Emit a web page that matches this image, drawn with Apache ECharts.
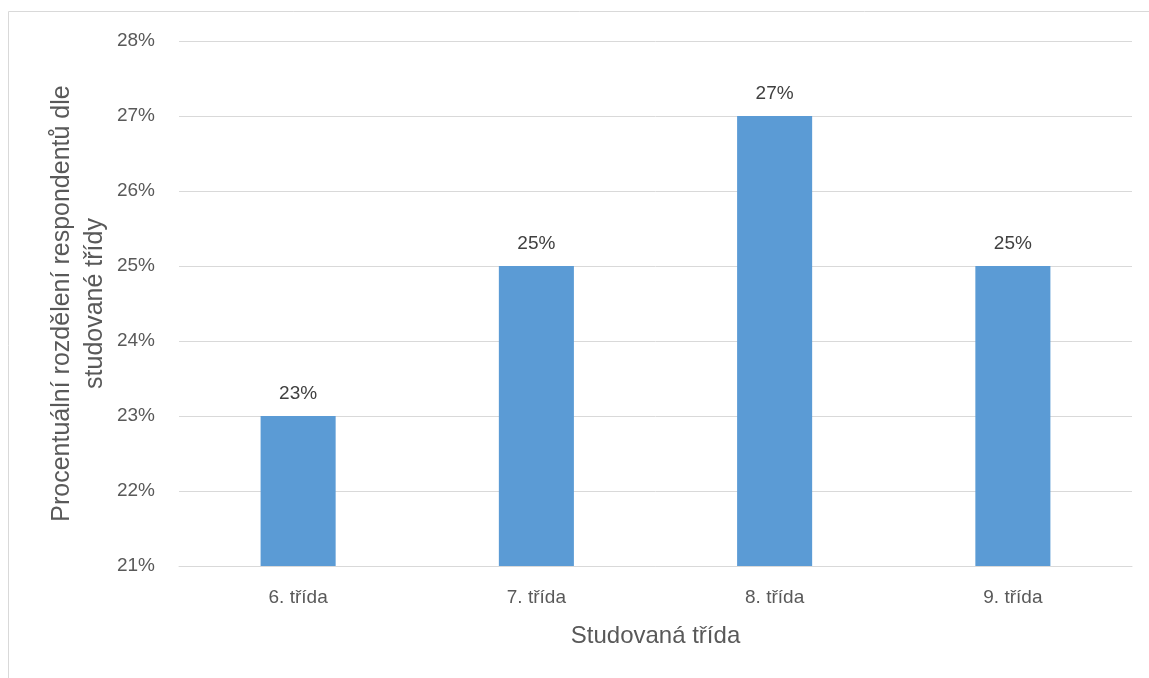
<!DOCTYPE html>
<html>
<head>
<meta charset="utf-8">
<script src="https://cdn.jsdelivr.net/npm/echarts@6/dist/echarts.min.js"></script>
<style>
  html, body { margin: 0; padding: 0; background: #fff; }
  #chart { width: 1149px; height: 678px; }
</style>
</head>
<body>
<div id="chart"></div>
<script>
// data
var categories = ['6. třída', '7. třída', '8. třída', '9. třída'];
var values = [23, 25, 27, 25];
var yMin = 21;
var yMax = 28;

var font = 'Liberation Sans';
var textColor = '#595959';

var chart = echarts.init(document.getElementById('chart'));
chart.setOption({
  animation: false,
  textStyle: { fontFamily: font },
  // chart area frame
  graphic: [{
    type: 'rect',
    shape: { x: 8.5, y: 11.5, width: 1300, height: 800 },
    style: { fill: null, stroke: '#d9d9d9', lineWidth: 1 },
    silent: true
  }],
  grid: { left: 179, right: 17, top: 41, bottom: 112 },
  xAxis: {
    type: 'category',
    data: categories,
    axisTick: { show: false },
    axisLine: { lineStyle: { color: '#d9d9d9', width: 1 } },
    axisLabel: { color: textColor, fontSize: 19, margin: 22, fontFamily: font },
    name: 'Studovaná třída',
    nameLocation: 'middle',
    nameGap: 58,
    nameMoveOverlap: false,
    nameTextStyle: { color: textColor, fontSize: 24, lineHeight: 24, fontFamily: font }
  },
  yAxis: {
    type: 'value',
    min: yMin,
    max: yMax,
    interval: 1,
    axisLine: { show: false },
    axisTick: { show: false },
    splitLine: { lineStyle: { color: '#d9d9d9', width: 1 } },
    axisLabel: {
      color: textColor, fontSize: 19, margin: 24, fontFamily: font,
      formatter: function (v) { return v + '%'; }
    },
    name: 'Procentuální rozdělení respondentů dle\nstudované třídy',
    nameLocation: 'middle',
    nameRotate: 90,
    nameGap: 67,
    nameMoveOverlap: false,
    nameTextStyle: { color: textColor, fontSize: 25, lineHeight: 33, fontFamily: font }
  },
  series: [{
    type: 'bar',
    data: values,
    barWidth: '31.5%',
    itemStyle: { color: '#5b9bd5' },
    label: {
      show: true,
      position: 'top',
      distance: 13,
      color: '#404040',
      fontSize: 19,
      fontFamily: font,
      formatter: function (p) { return p.value + '%'; }
    }
  }]
});
</script>
</body>
</html>
